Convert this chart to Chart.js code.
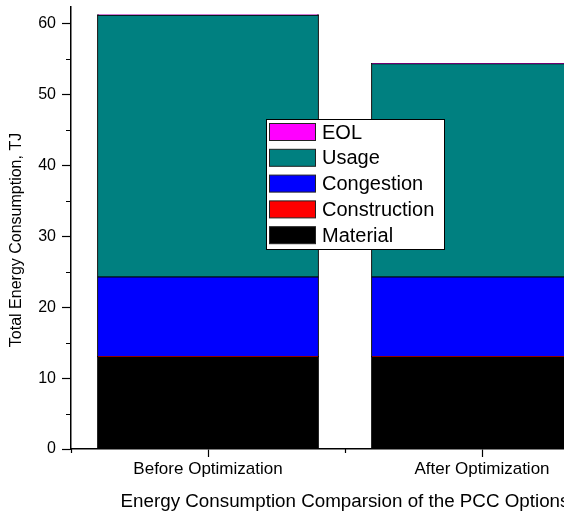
<!DOCTYPE html>
<html>
<head>
<meta charset="utf-8">
<script src="https://cdn.jsdelivr.net/npm/chart.js@4.4.0/dist/chart.umd.min.js"></script>
<style>
html,body{margin:0;padding:0;background:#fff;overflow:hidden;width:564px;height:516px;}
#wrap{position:absolute;left:0;top:0;width:640px;height:516px;}
canvas{display:block;}
</style>
</head>
<body>
<div id="wrap"><canvas id="c" width="640" height="516"></canvas></div>
<script>
const categories = ["Before Optimization", "After Optimization"];
const material = [13.0, 13.0];
const construction = [0.06, 0.06];
const congestion = [11.24, 11.24];
const usage = [36.95, 30.1];
const eol = [0.04, 0.04];
const yTicks = [0, 10, 20, 30, 40, 50, 60];
const yMax = 62.4;
const yTitle = 'Total Energy Consumption, TJ';
const xTitle = 'Energy Consumption Comparsion of the PCC Options';

const FONT = "'Liberation Sans', Arial, sans-serif";

const extras = {
  id: 'extras',
  afterDraw(chart) {
    const ctx = chart.ctx;
    const y = chart.scales.y, x = chart.scales.x;
    const ca = chart.chartArea;
    ctx.save();
    // minor ticks
    ctx.strokeStyle = '#000';
    ctx.lineWidth = 1.2;
    ctx.beginPath();
    for (let v = 5; v < yMax; v += 10) {
      const py = Math.round(y.getPixelForValue(v)) + 0.5;
      ctx.moveTo(ca.left - 5, py);
      ctx.lineTo(ca.left, py);
    }
    const n = categories.length;
    for (let i = 0; i <= n; i++) {
      const px = Math.round(x.getPixelForValue(i - 0.5)) + 0.5;
      ctx.moveTo(px, ca.bottom);
      ctx.lineTo(px, ca.bottom + 4);
    }
    ctx.stroke();
    // y title
    ctx.fillStyle = '#000';
    ctx.font = '16px ' + FONT;
    ctx.textAlign = 'center';
    ctx.textBaseline = 'middle';
    ctx.translate(17, (ca.top + ca.bottom) / 2 + 12);
    ctx.rotate(-Math.PI / 2);
    ctx.fillText(yTitle, 0, 0);
    ctx.restore();

    // legend box
    const ds = chart.data.datasets.slice().reverse();
    const bx = ca.left + 195, by = ca.top + 112;
    const bw = 178, rowH = 25.8, bh = rowH * ds.length + 1;
    ctx.save();
    ctx.fillStyle = '#fff';
    ctx.fillRect(bx, by, bw, bh);
    ctx.strokeStyle = '#000';
    ctx.lineWidth = 1;
    ctx.strokeRect(bx + 0.5, by + 0.5, bw, bh);
    ctx.font = '20px ' + FONT;
    ctx.textBaseline = 'middle';
    ds.forEach((d, i) => {
      const cy = by + 13 + i * rowH;
      ctx.fillStyle = d.backgroundColor;
      ctx.fillRect(bx + 3.5, cy - 8.5, 46, 17);
      ctx.strokeStyle = '#222';
      ctx.strokeRect(bx + 3.5, cy - 8.5, 46, 17);
      ctx.fillStyle = '#000';
      ctx.fillText(d.label, bx + 56, cy + 1);
    });
    ctx.restore();
  }
};

function mk(label, data, color) {
  return {
    label, data,
    backgroundColor: color,
    borderColor: '#000',
    borderWidth: 1,
    borderSkipped: false,
    inflateAmount: 0.5,
    barPercentage: 0.806,
    categoryPercentage: 1.0
  };
}

new Chart(document.getElementById('c'), {
  type: 'bar',
  data: {
    labels: categories,
    datasets: [
      mk('Material', material, '#000000'),
      mk('Construction', construction, '#FF0000'),
      mk('Congestion', congestion, '#0000FF'),
      mk('Usage', usage, '#008080'),
      mk('EOL', eol, '#FF00FF')
    ]
  },
  options: {
    responsive: false,
    animation: false,
    layout: { padding: { left: 0, right: 21, top: 7, bottom: 0 } },
    plugins: { legend: { display: false }, tooltip: { enabled: false } },
    scales: {
      x: {
        stacked: true,
        offset: true,
        afterFit(s) { s.height = 67; s.paddingLeft = 0; s.paddingRight = 0; },
        grid: { display: true, offset: false, drawOnChartArea: false, tickLength: 8, color: '#000', tickColor: '#000', tickWidth: 1.2 },
        border: { display: true, color: '#000', width: 1.5 },
        ticks: { color: '#000', font: { family: FONT, size: 17 }, padding: 2, maxRotation: 0 },
        title: { display: true, text: xTitle, color: '#000', font: { family: FONT, size: 18.8 }, padding: { top: 0, bottom: 3 } }
      },
      y: {
        stacked: true,
        min: 0,
        max: yMax,
        afterFit(s) { s.width = 71; s.paddingTop = 0; s.paddingBottom = 0; },
        afterBuildTicks(s) { s.ticks = yTicks.map(v => ({ value: v })); },
        grid: { display: true, drawOnChartArea: false, tickLength: 9, color: '#000', tickColor: '#000', tickWidth: 1.2 },
        border: { display: true, color: '#000', width: 1.5 },
        ticks: { color: '#000', font: { family: FONT, size: 16 }, padding: 6 },
        title: { display: false }
      }
    }
  },
  plugins: [extras]
});
</script>
</body>
</html>
